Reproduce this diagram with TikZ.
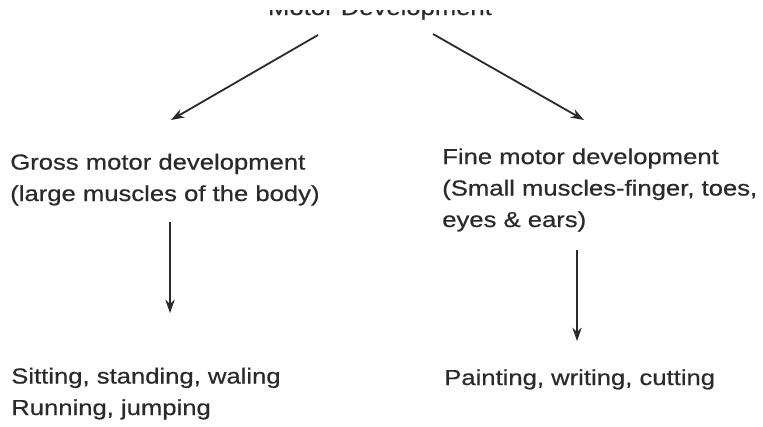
\documentclass[tikz,border=0pt]{standalone}
\usepackage{fontspec}
\setmainfont[FakeStretch=1.18,FakeBold=0.5]{Liberation Sans}
\usetikzlibrary{arrows.meta}
\definecolor{txt}{HTML}{2A2A2A}
\tikzset{
  lbl/.style={anchor=base west, inner sep=0pt, align=left, text=txt,
    font=\fontsize{16.3}{23.6}\selectfont},
  conn/.style={draw=txt, line width=1.35pt, -{Stealth[length=10pt,width=7pt]}}
}
\begin{document}
\begin{tikzpicture}[x=0.75pt,y=-0.75pt]
\useasboundingbox (0,0) rectangle (763,426);
\clip (0,0) rectangle (763,426);
\fill[white] (0,0) rectangle (763,426);
\begin{scope}
\clip (0,10.5) rectangle (763,30);
\node[lbl, anchor=base] (title) at (380,15) {Motor Development};
\end{scope}
\node[lbl] (gross) at (10,201) {Gross motor development\\(large muscles of the body)};
\node[lbl] (fine) at (442,227) {Fine motor development\\(Small muscles-finger, toes,\\eyes \& ears)};
\node[lbl] (gact) at (11,415) {Sitting, standing, waling\\Running, jumping};
\node[lbl] (fact) at (444,385) {Painting, writing, cutting};
\coordinate (t1) at (318,35);
\coordinate (t2) at (433,34);
\coordinate (g1) at (171,120);
\coordinate (f1) at (584,120);
\coordinate (gs) at (170,222);
\coordinate (ge) at (170,313);
\coordinate (fs) at (577,250);
\coordinate (fe) at (577,341);
\draw[conn] (t1) -- (g1);
\draw[conn] (t2) -- (f1);
\draw[conn] (gs) -- (ge);
\draw[conn] (fs) -- (fe);
\end{tikzpicture}
\end{document}
